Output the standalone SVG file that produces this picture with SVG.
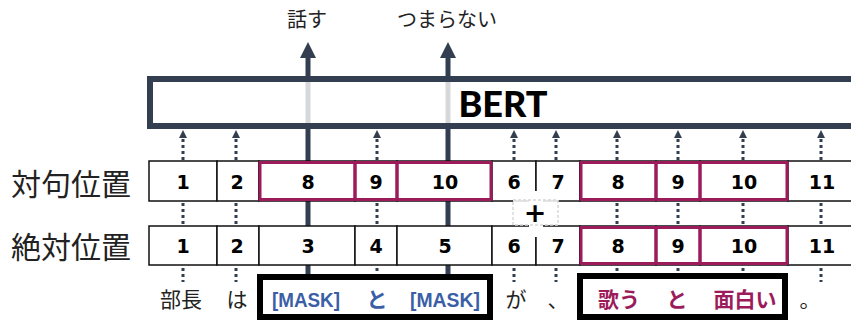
<svg xmlns="http://www.w3.org/2000/svg" width="851" height="323" viewBox="0 0 851 323">
<style>
.cell{fill:#fff;stroke:#111;stroke-width:1.5}
.pink{fill:none;stroke:#9b1b5b;stroke-width:3}
.num{font-family:"DejaVu Sans",Verdana,sans-serif;font-weight:bold;font-size:19px;text-anchor:middle;fill:#000}
.lab{font-family:"Noto Sans CJK JP",sans-serif;font-size:30px;fill:#222}
.jp{font-family:"Noto Sans CJK JP",sans-serif;font-size:21px;fill:#222;text-anchor:middle}
.dot{stroke:#333f50;stroke-width:3;stroke-dasharray:3 3;fill:none}
.solid{stroke:#333f50;stroke-width:5;fill:none}
.blue{font-family:"Liberation Sans",Arial,sans-serif;font-weight:bold;font-size:21px;fill:#3b5fa6;text-anchor:middle}
.bluejp{font-family:"Noto Sans CJK JP",sans-serif;font-weight:bold;font-size:21px;fill:#3b5fa6;text-anchor:middle}
.purp{font-family:"Noto Sans CJK JP",sans-serif;font-weight:bold;font-size:21px;fill:#9b1b5b;text-anchor:middle}
.frame{fill:none;stroke:#000;stroke-width:6}
</style>

<g id="connectors">
<line class="solid" x1="308" y1="56" x2="308" y2="276"/>
<path d="M300,58 L308,42 L316,58 Z" fill="#333f50"/>
<line class="solid" x1="448" y1="56" x2="448" y2="276"/>
<path d="M440,58 L448,42 L456,58 Z" fill="#333f50"/>
<g class="dot">
<line x1="183" y1="160" x2="183" y2="137"/>
<line x1="236" y1="160" x2="236" y2="137"/>
<line x1="377" y1="160" x2="377" y2="137"/>
<line x1="514" y1="160" x2="514" y2="137"/>
<line x1="556" y1="160" x2="556" y2="137"/>
<line x1="617" y1="160" x2="617" y2="137"/>
<line x1="678" y1="160" x2="678" y2="137"/>
<line x1="743" y1="160" x2="743" y2="137"/>
<line x1="821" y1="160" x2="821" y2="137"/>
<line x1="183" y1="203" x2="183" y2="226"/>
<line x1="236" y1="203" x2="236" y2="226"/>
<line x1="377" y1="203" x2="377" y2="226"/>
<line x1="617" y1="203" x2="617" y2="226"/>
<line x1="678" y1="203" x2="678" y2="226"/>
<line x1="743" y1="203" x2="743" y2="226"/>
<line x1="821" y1="203" x2="821" y2="226"/>
<line x1="183" y1="268" x2="183" y2="282"/>
<line x1="236" y1="268" x2="236" y2="282"/>
<line x1="377" y1="268" x2="377" y2="273"/>
<line x1="514" y1="268" x2="514" y2="282"/>
<line x1="556" y1="268" x2="556" y2="282"/>
<line x1="617" y1="268" x2="617" y2="273"/>
<line x1="678" y1="268" x2="678" y2="273"/>
<line x1="743" y1="268" x2="743" y2="273"/>
<line x1="821" y1="268" x2="821" y2="282"/>
</g>
<g fill="#333f50">
<path d="M179,138 L183,130 L187,138 Z"/>
<path d="M232,138 L236,130 L240,138 Z"/>
<path d="M373,138 L377,130 L381,138 Z"/>
<path d="M510,138 L514,130 L518,138 Z"/>
<path d="M552,138 L556,130 L560,138 Z"/>
<path d="M613,138 L617,130 L621,138 Z"/>
<path d="M674,138 L678,130 L682,138 Z"/>
<path d="M739,138 L743,130 L747,138 Z"/>
<path d="M817,138 L821,130 L825,138 Z"/>
</g>
</g>

<g id="bert">
<rect x="150" y="79" width="720" height="47" fill="#fff" fill-opacity="0.8" stroke="#333f50" stroke-width="6"/>
<text x="503" y="117" font-family="Lato,'Liberation Sans',sans-serif" font-weight="900" font-size="36" text-anchor="middle" fill="#000">BERT</text>
</g>

<g id="outputs">
<text class="jp" x="307" y="27" style="font-size:20px">話す</text>
<text class="jp" x="447" y="27" style="font-size:20px">つまらない</text>
</g>

<g id="label-taiku"><text class="lab" x="11" y="195">対句位置</text></g>
<g id="label-zettai"><text class="lab" x="11" y="258">絶対位置</text></g>

<g id="row-taiku">
<rect class="cell" x="149" y="161" width="68" height="40"/>
<rect class="cell" x="217" y="161" width="42" height="40"/>
<rect class="cell" x="259" y="161" width="96" height="40"/>
<rect class="cell" x="355" y="161" width="42" height="40"/>
<rect class="cell" x="397" y="161" width="95" height="40"/>
<rect class="cell" x="492" y="161" width="44" height="40"/>
<rect class="cell" x="536" y="161" width="44" height="40"/>
<rect class="cell" x="580" y="161" width="76" height="40"/>
<rect class="cell" x="656" y="161" width="44" height="40"/>
<rect class="cell" x="700" y="161" width="88" height="40"/>
<rect class="cell" x="788" y="161" width="80" height="40"/>
<rect class="pink" x="260" y="162.5" width="95" height="37"/>
<rect class="pink" x="355" y="162.5" width="42" height="37"/>
<rect class="pink" x="397" y="162.5" width="94" height="37"/>
<rect class="pink" x="581" y="162.5" width="75" height="37"/>
<rect class="pink" x="656" y="162.5" width="44" height="37"/>
<rect class="pink" x="700" y="162.5" width="87" height="37"/>
<text class="num" x="183" y="189">1</text>
<text class="num" x="237" y="189">2</text>
<text class="num" x="308" y="189">8</text>
<text class="num" x="376" y="189">9</text>
<text class="num" x="445" y="189">10</text>
<text class="num" x="514" y="189">6</text>
<text class="num" x="558" y="189">7</text>
<text class="num" x="618" y="189">8</text>
<text class="num" x="678" y="189">9</text>
<text class="num" x="744" y="189">10</text>
<text class="num" x="822" y="189">11</text>
</g>

<g id="row-zettai">
<rect class="cell" x="149" y="226" width="68" height="39"/>
<rect class="cell" x="217" y="226" width="42" height="39"/>
<rect class="cell" x="259" y="226" width="96" height="39"/>
<rect class="cell" x="355" y="226" width="42" height="39"/>
<rect class="cell" x="397" y="226" width="95" height="39"/>
<rect class="cell" x="492" y="226" width="44" height="39"/>
<rect class="cell" x="536" y="226" width="44" height="39"/>
<rect class="cell" x="580" y="226" width="76" height="39"/>
<rect class="cell" x="656" y="226" width="44" height="39"/>
<rect class="cell" x="700" y="226" width="88" height="39"/>
<rect class="cell" x="788" y="226" width="80" height="39"/>
<rect class="pink" x="581" y="227.5" width="75" height="36"/>
<rect class="pink" x="656" y="227.5" width="44" height="36"/>
<rect class="pink" x="700" y="227.5" width="87" height="36"/>
<text class="num" x="183" y="253">1</text>
<text class="num" x="237" y="253">2</text>
<text class="num" x="308" y="253">3</text>
<text class="num" x="376" y="253">4</text>
<text class="num" x="445" y="253">5</text>
<text class="num" x="514" y="253">6</text>
<text class="num" x="558" y="253">7</text>
<text class="num" x="618" y="253">8</text>
<text class="num" x="678" y="253">9</text>
<text class="num" x="744" y="253">10</text>
<text class="num" x="822" y="253">11</text>
</g>

<g id="plus">
<rect x="529" y="191" width="14" height="46" fill="#fff"/>
<rect x="513" y="200" width="45" height="25" fill="#fff" fill-opacity="0.85" stroke="#d8d8d8" stroke-width="1.5" stroke-dasharray="3 2"/>
<text class="num" x="535" y="222" style="font-size:27px">+</text>
</g>

<g id="sentence">
<text class="jp" x="181" y="307">部長</text>
<text class="jp" x="237" y="307">は</text>
<text class="jp" x="516" y="307">が</text>
<text class="jp" x="558" y="307">、</text>
<text class="jp" x="810" y="307">。</text>
</g>

<g id="mask-box">
<rect class="frame" x="260" y="277" width="230" height="40"/>
<text class="blue" x="306" y="307" textLength="68" lengthAdjust="spacingAndGlyphs">[MASK]</text>
<text class="bluejp" x="377" y="307">と</text>
<text class="blue" x="445" y="307" textLength="70" lengthAdjust="spacingAndGlyphs">[MASK]</text>
</g>

<g id="answer-box">
<rect class="frame" x="580" y="276" width="205" height="41"/>
<text class="purp" x="619" y="307">歌う</text>
<text class="purp" x="677" y="307">と</text>
<text class="purp" x="745" y="307">面白い</text>
</g>
</svg>
